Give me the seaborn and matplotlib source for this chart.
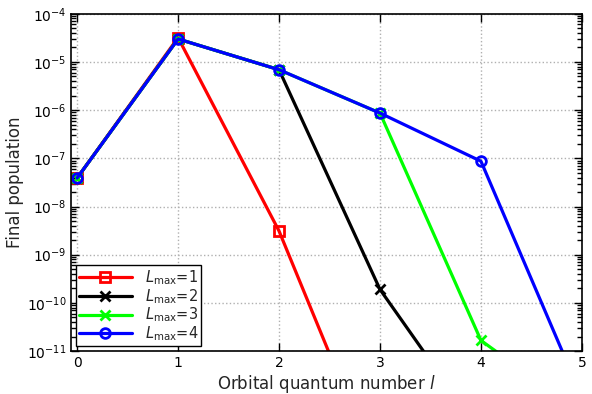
import matplotlib
matplotlib.use("Agg")
import matplotlib.pyplot as plt
import numpy as np
import pandas as pd
import seaborn as sns

# ----- data -----
l_values = [0, 1, 2, 3, 4, 5]
pop_l1 = [3.9e-8, 3.2e-5, 3.1e-9, 2.5e-14]
pop_l2 = [3.9e-8, 3.0e-5, 6.9e-6, 1.9e-10, 2.0e-13]
pop_l3 = [3.9e-8, 3.0e-5, 6.9e-6, 8.7e-7, 1.66e-11, 5.0e-13]
pop_l4 = [3.9e-8, 3.0e-5, 6.9e-6, 8.7e-7, 8.7e-8, 1.1e-12]

series = [
    ("$L_{\\mathrm{max}}$=1", pop_l1, "#ff0000", "s", "none"),
    ("$L_{\\mathrm{max}}$=2", pop_l2, "#000000", "x", None),
    ("$L_{\\mathrm{max}}$=3", pop_l3, "#00ff00", "x", None),
    ("$L_{\\mathrm{max}}$=4", pop_l4, "#0000ff", "o", "none"),
]

sns.set_style("ticks")
plt.rcParams["font.family"] = ["DejaVu Sans"]

fig = plt.figure(figsize=(5.92, 3.94), dpi=100)
ax = fig.add_axes([0.12, 0.109, 0.863, 0.856])

for label, vals, color, marker, mfc in series:
    df = pd.DataFrame({"l": l_values[:len(vals)], "pop": vals})
    kw = dict(marker=marker, markersize=7, markeredgewidth=2,
              markeredgecolor=color, linewidth=2.3, color=color, label=label)
    if mfc is not None:
        kw["markerfacecolor"] = mfc
    sns.lineplot(data=df, x="l", y="pop", ax=ax, **kw)

decades = list(range(-11, -3))
ax.set_yscale("log")
ax.set_xlim(-0.06, 5)
ax.set_ylim(1e-11, 1e-4)
ax.set_xticks([0, 1, 2, 3, 4, 5])
ax.set_yticks([10.0 ** e for e in decades])
ax.set_yticklabels(["$\\mathregular{10^{%d}}$" % e for e in decades])
minor = [m * 10.0 ** e for e in decades[:-1] for m in range(2, 10)]
ax.set_yticks(minor, minor=True)
ax.set_yticklabels([], minor=True)
ax.tick_params(which="both", direction="in", top=True, right=True,
               labelsize=10, color="black", labelcolor="black")
ax.tick_params(which="major", length=6, width=1)
ax.tick_params(which="minor", length=3.5, width=1, left=True, right=True)
ax.grid(True, which="major", linestyle=":", color="#b0b0b0", linewidth=1)
for s in ax.spines.values():
    s.set_linewidth(1.2)
    s.set_color("black")

ax.set_xlabel("Orbital quantum number $l$", fontsize=12, labelpad=2)
ax.set_ylabel("Final population", fontsize=12, labelpad=2)

leg = ax.legend(loc="lower left", fontsize=10.5, frameon=True, fancybox=False,
                handlelength=3.6, borderpad=0.2, labelspacing=0.0,
                borderaxespad=0.35, handletextpad=0.9)
leg.get_frame().set_edgecolor("black")
leg.get_frame().set_linewidth(1)
leg.get_frame().set_alpha(1)

fig.savefig("out.png", dpi=100)
